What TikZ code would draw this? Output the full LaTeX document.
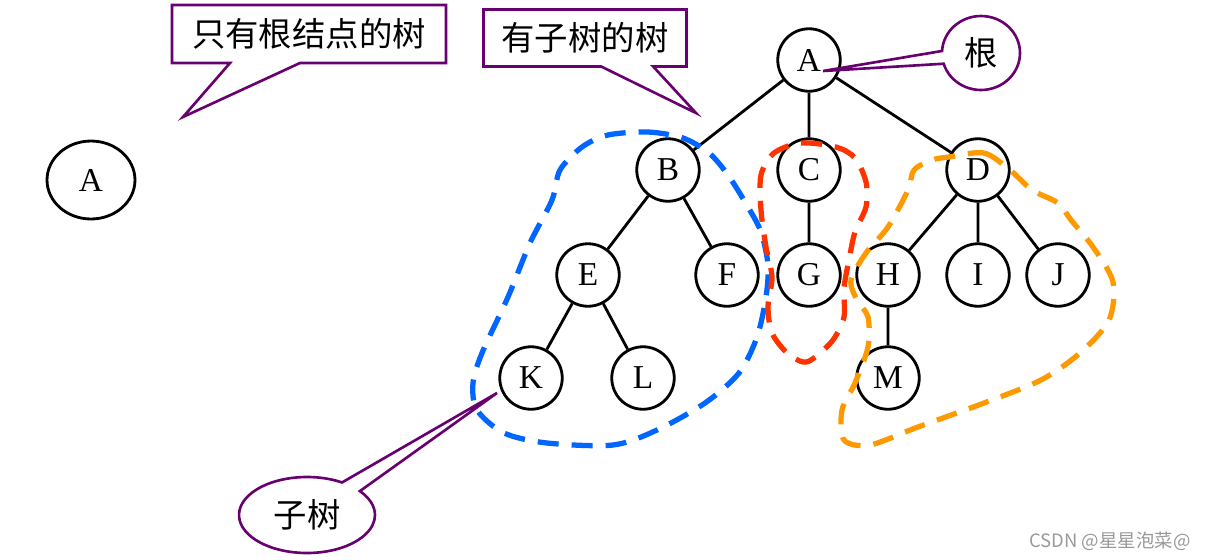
\documentclass[tikz,border=0pt]{standalone}
\usepackage{fontspec}
\setmainfont{Liberation Serif}
\newfontfamily\cjk{Noto Sans CJK SC}
\usetikzlibrary{shapes.callouts, shapes.geometric}
\definecolor{notepurple}{RGB}{104,0,112}
\definecolor{subblue}{RGB}{0,102,255}
\definecolor{subred}{RGB}{255,51,0}
\definecolor{suborange}{RGB}{255,153,0}
\begin{document}
\begin{tikzpicture}[x=0.02cm, y=-0.02cm,
    vertex/.style={draw, circle, line width=1.6pt, minimum size=1.25cm, inner sep=0pt,
      font=\fontsize{19}{19}\selectfont},
    edge/.style={line width=1.6pt},
    note/.style={draw=notepurple, line width=1.5pt, inner sep=0pt,
      font=\cjk\fontsize{19}{19}\selectfont},
    subtree/.style={line width=3pt, dash pattern=on 0.42cm off 0.26cm}]
  \useasboundingbox (0, 0) rectangle (1205, 559);

  \node[vertex, ellipse, minimum width=1.76cm, minimum height=1.56cm] (lone) at (91, 180) {A};

  \node[vertex] (a) at (809, 60) {A};
  \node[vertex] (b) at (668, 170) {B};
  \node[vertex] (c) at (809, 170) {C};
  \node[vertex] (d) at (978, 170) {D};
  \node[vertex] (e) at (588, 275) {E};
  \node[vertex] (f) at (727, 275) {F};
  \node[vertex] (g) at (809, 275) {G};
  \node[vertex] (h) at (888, 275) {H};
  \node[vertex] (i) at (978, 275) {I};
  \node[vertex] (j) at (1058, 275) {J};
  \node[vertex] (k) at (531, 378) {K};
  \node[vertex] (l) at (643, 378) {L};
  \node[vertex] (m) at (888, 378) {M};

  \draw[edge] (a) -- (b) (a) -- (c) (a) -- (d)
    (b) -- (e) (b) -- (f) (c) -- (g)
    (d) -- (h) (d) -- (i) (d) -- (j)
    (e) -- (k) (e) -- (l) (h) -- (m);

  \node[note, rectangle callout, minimum width=5.48cm, minimum height=1.16cm,
    callout pointer width=1.4cm,
    callout absolute pointer={(183, 117)}] (onlyroot) at (309, 34) {只有根结点的树};
  \node[note, rectangle callout, minimum width=4.06cm, minimum height=1.14cm,
    callout pointer width=1.04cm,
    callout absolute pointer={(696, 113)}] (withsub) at (585, 38) {有子树的树};
  \node[note, ellipse callout, minimum width=1.56cm, minimum height=1.48cm,
    callout pointer arc=20, callout absolute pointer={(823, 71)}] (rootnote) at (981, 53) {根};
  \node[note, ellipse callout, minimum width=2.72cm, minimum height=1.52cm,
    callout pointer arc=20, callout absolute pointer={(497, 393)}] (subnote) at (307, 515) {子树};

  \draw[subtree, subblue] plot[smooth cycle] coordinates {
    (608, 135) (648, 132) (683, 138) (709, 153) (728, 175) (748, 207) (761, 232)
    (768, 265) (766, 297) (757, 337) (739, 373) (705, 403) (657, 430) (613, 445)
    (547, 443) (504, 433) (477, 410) (473, 383) (482, 353) (508, 297) (530, 243)
    (552, 200) (560, 170) (582, 147)};
  \draw[subtree, subred] plot[smooth cycle] coordinates {
    (801, 143) (836, 147) (855, 158) (866, 182) (866, 207) (855, 232) (849, 260)
    (844, 288) (844, 317) (833, 340) (814, 358) (803, 362) (787, 353) (772, 333)
    (768, 307) (772, 277) (766, 247) (761, 210) (761, 175) (774, 153)};
  \draw[subtree, suborange] plot[smooth cycle] coordinates {
    (949, 157) (984, 153) (1010, 170) (1032, 190) (1058, 203) (1071, 220)
    (1093, 247) (1113, 282) (1109, 320) (1080, 353) (1041, 380) (984, 403)
    (918, 427) (870, 445) (844, 440) (842, 410) (855, 383) (868, 347) (868, 317)
    (857, 300) (851, 280) (866, 253) (888, 227) (908, 190) (914, 170) (932, 160)};

  \node[text=black!40, font=\cjk\fontsize{10.5}{10.5}\selectfont] (mark) at (1110, 541)
    {CSDN @星星泡菜@};
\end{tikzpicture}
\end{document}
